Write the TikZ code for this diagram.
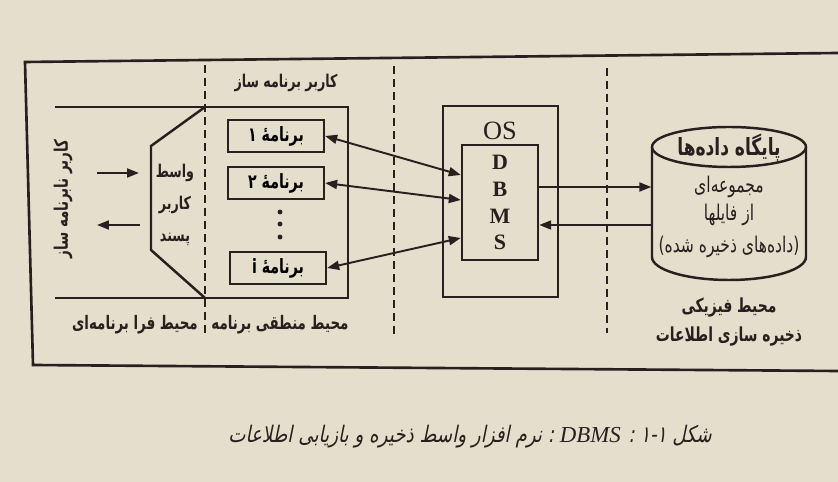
\documentclass[tikz,border=0pt]{standalone}
\usepackage{fontspec}
\setmainfont{Liberation Serif}
\newfontfamily\fa[Script=Arabic,FakeStretch=0.72]{DejaVu Sans}
\newfontfamily\facap[Script=Arabic,FakeSlant=0.2,FakeStretch=0.8]{DejaVu Sans}
\TeXXeTstate=1
\usetikzlibrary{positioning, calc, arrows.meta}
\definecolor{paper}{RGB}{229,222,205}
\definecolor{ink}{RGB}{40,32,30}
\newcommand{\fatxt}[1]{\beginR #1\endR}
\tikzset{every picture/.append style={thick}}
\tikzset{
  progbox/.style={draw=ink, line width=1.3pt, minimum width=1.92cm, minimum height=0.64cm, inner sep=0pt, font=\fa\bfseries\fontsize{11.2}{12}\selectfont},
  label/.style={text=ink, inner sep=0pt, font=\fa\bfseries\fontsize{10.6}{12}\selectfont},
  divider/.style={draw=ink, line width=1.4pt, dash pattern=on 0.17cm off 0.09cm},
  wire/.style={draw=ink, line width=1.1pt}
}

\begin{document}
\begin{tikzpicture}[x=0.02cm, y=-0.02cm, >={Triangle[length=2.4mm, width=1.8mm]}]
    % Paper
    \fill[paper] (0,0) rectangle (838,482);
    \useasboundingbox (0,0) rectangle (838,482);

    % Outer frame
    \draw[ink, line width=1.5pt] (838,53) -- (25,62) -- (33,365) -- (838,371);

    % Zone dividers
    \draw[divider] (205,65) -- (205,337);
    \draw[divider] (394,66) -- (394,336);
    \draw[divider] (607,68) -- (607,333);

    % Program environment
    \draw[ink, line width=1.4pt] (55,107) -- (348,107) -- (348,298) -- (55,298);
    \draw[ink, line width=1.4pt] (205,107) -- (151,146) -- (151,250) -- (205,298);

    % Programs
    \node[progbox] (prog1) at (276,136) {\fatxt{برنامه^^^^0654 ۱}};
    \node[progbox] (prog2) at (276,183) {\fatxt{برنامه^^^^0654 ۲}};
    \node[progbox] (progi) at (278,268) {\fatxt{برنامه^^^^0654 i}};
    \foreach \y in {212,224,237}
        \fill[ink] (280,\y) circle (1.4pt);

    % OS and DBMS
    \node[draw=ink, line width=1.4pt, minimum width=2.3cm, minimum height=3.82cm] (os) at (500.5,201.5) {};
    \node[text=ink, font=\fontsize{15}{16}\selectfont] (oslabel) at (500,131) {OS};
    \node[draw=ink, line width=1.4pt, minimum width=1.52cm, minimum height=2.3cm, align=center,
          text=ink, font=\bfseries\fontsize{12.5}{15.3}\selectfont] (dbms) at (500,202.5) {D\\B\\M\\S};

    % Database cylinder
    \node[minimum width=3.08cm, minimum height=3.06cm] (db) at (729,202.5) {};
    \draw[ink, line width=1.4pt] (729,147) ellipse [x radius=1.54cm, y radius=0.4cm];
    \draw[ink, line width=1.4pt] (652,147) -- (652,257) arc[start angle=180, end angle=360, x radius=1.54cm, y radius=0.46cm] -- (806,147);
    \node[label, font=\fa\bfseries\fontsize{13.5}{12}\selectfont] (dbtitle) at (729,148) {\fatxt{پایگاه داده^^^^200cها}};
    \node[label, font=\fa\fontsize{12.3}{12}\selectfont] (dbtext1) at (729,187) {\fatxt{مجموعه^^^^200cای}};
    \node[label, font=\fa\fontsize{12.3}{12}\selectfont] (dbtext2) at (729,215) {\fatxt{از فایلها}};
    \node[label, font=\fa\fontsize{12.3}{12}\selectfont] (dbtext3) at (729,247) {\fatxt{(داده^^^^200cهای ذخیره شده)}};

    % Zone labels
    \node[label, font=\fa\bfseries\fontsize{10}{12}\selectfont] (coder) at (286,83) {\fatxt{کاربر برنامه ساز}};
    \node[label, rotate=90] (enduser) at (63,199) {\fatxt{کاربر نابرنامه ساز}};
    \node[label, align=center, font=\fa\bfseries\fontsize{10}{18.1}\selectfont] (iface) at (175,205)
        {\fatxt{واسط}\\\fatxt{کاربر}\\\fatxt{پسند}};
    \node[label] (metaenv) at (135,325) {\fatxt{محیط فرا برنامه^^^^200cای}};
    \node[label] (logicenv) at (280,325) {\fatxt{محیط منطقی برنامه}};
    \node[label, align=center, font=\fa\bfseries\fontsize{11}{16}\selectfont] (physenv) at (729,322)
        {\fatxt{محیط فیزیکی}\\\fatxt{ذخیره سازی اطلاعات}};

    % User arrows
    \coordinate (uin) at (97,173);
    \coordinate (uinend) at (139,173);
    \coordinate (uout) at (140,225);
    \coordinate (uoutend) at (97,225);
    \draw[wire, ->] (uin) -- (uinend);
    \draw[wire, ->] (uout) -- (uoutend);

    % Program <-> DBMS
    \draw[wire, <->] (prog1.east) -- ($(dbms.west)+(0,-27.5)$);
    \draw[wire, <->] (prog2.east) -- ($(dbms.west)+(0,-2.5)$);
    \draw[wire, <->] (progi.east) -- ($(dbms.west)+(0,35.5)$);

    % DBMS <-> database
    \draw[wire, ->] ($(dbms.east)+(0,-15.5)$) -- ($(db.west)+(0,-15.5)$);
    \draw[wire, ->] ($(db.west)+(0,22.5)$) -- ($(dbms.east)+(0,22.5)$);

    % Caption
    \node[text=ink, inner sep=0pt, font=\facap\fontsize{13}{14}\selectfont] (caption) at (470,437)
        {\beginR شکل ۱-۱ : \beginL{\itshape\rmfamily DBMS}\endL{} : نرم افزار واسط ذخیره و بازیابی اطلاعات\endR};
\end{tikzpicture}
\end{document}
